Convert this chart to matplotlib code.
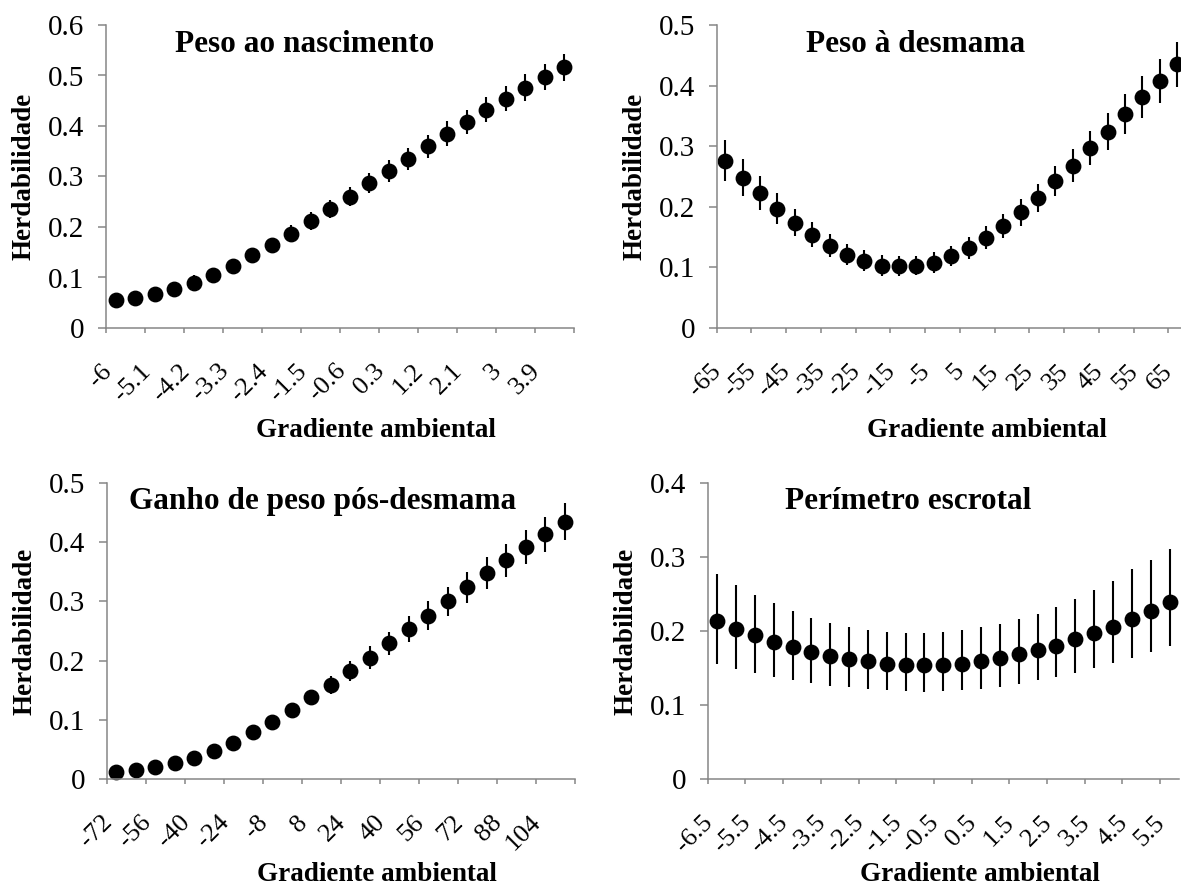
import matplotlib
matplotlib.use("Agg")
import matplotlib.pyplot as plt
import numpy as np

plt.rcParams['font.family'] = ['Liberation Serif', 'DejaVu Serif']

# Peso ao nascimento
grad_pn = [-6.0, -5.55, -5.1, -4.65, -4.2, -3.75, -3.3, -2.85, -2.4, -1.95, -1.5, -1.05,
           -0.6, -0.15, 0.3, 0.75, 1.2, 1.65, 2.1, 2.55, 3.0, 3.45, 3.9, 4.35]
h2_pn = [0.055, 0.059, 0.067, 0.077, 0.090, 0.105, 0.123, 0.144, 0.164, 0.187, 0.212, 0.236,
         0.260, 0.287, 0.311, 0.335, 0.360, 0.385, 0.408, 0.432, 0.454, 0.476, 0.497, 0.516]
err_pn = [0.014, 0.014, 0.014, 0.014, 0.014, 0.014, 0.014, 0.015, 0.015, 0.016, 0.017, 0.018,
          0.019, 0.020, 0.021, 0.022, 0.023, 0.024, 0.024, 0.025, 0.025, 0.026, 0.026, 0.027]

# Peso a desmama
grad_pd = [-65, -60, -55, -50, -45, -40, -35, -30, -25, -20, -15, -10, -5, 0,
           5, 10, 15, 20, 25, 30, 35, 40, 45, 50, 55, 60, 65]
h2_pd = [0.276, 0.248, 0.222, 0.197, 0.174, 0.154, 0.136, 0.121, 0.111, 0.103, 0.102, 0.103, 0.108, 0.119,
         0.132, 0.149, 0.168, 0.191, 0.215, 0.242, 0.268, 0.297, 0.324, 0.353, 0.381, 0.408, 0.435]
err_pd = [0.034, 0.031, 0.028, 0.025, 0.023, 0.021, 0.019, 0.017, 0.017, 0.017, 0.016, 0.016, 0.017, 0.017,
          0.018, 0.019, 0.020, 0.022, 0.023, 0.025, 0.027, 0.028, 0.031, 0.033, 0.035, 0.036, 0.037]

# Ganho de peso pos-desmama
grad_gpd = [-72, -64, -56, -48, -40, -32, -24, -16, -8, 0, 8, 16,
            24, 32, 40, 48, 56, 64, 72, 80, 88, 96, 104, 112]
h2_gpd = [0.013, 0.015, 0.020, 0.027, 0.036, 0.048, 0.062, 0.079, 0.097, 0.116, 0.138, 0.159,
          0.182, 0.205, 0.229, 0.253, 0.276, 0.300, 0.324, 0.347, 0.369, 0.392, 0.413, 0.434]
err_gpd = [0.003, 0.003, 0.004, 0.004, 0.005, 0.006, 0.007, 0.008, 0.010, 0.011, 0.013, 0.015,
           0.017, 0.019, 0.020, 0.022, 0.024, 0.025, 0.026, 0.027, 0.028, 0.029, 0.030, 0.031]

# Perimetro escrotal (intervalo assimetrico)
grad_pe = [-6.5, -6.0, -5.5, -5.0, -4.5, -4.0, -3.5, -3.0, -2.5, -2.0, -1.5, -1.0, -0.5,
           0.0, 0.5, 1.0, 1.5, 2.0, 2.5, 3.0, 3.5, 4.0, 4.5, 5.0, 5.5]
h2_pe = [0.213, 0.203, 0.194, 0.185, 0.178, 0.172, 0.166, 0.162, 0.159, 0.156, 0.154, 0.154, 0.154,
         0.156, 0.160, 0.164, 0.169, 0.174, 0.180, 0.189, 0.197, 0.206, 0.216, 0.227, 0.239]
lo_pe = [0.155, 0.149, 0.144, 0.138, 0.134, 0.130, 0.126, 0.124, 0.122, 0.120, 0.119, 0.118, 0.119,
         0.120, 0.122, 0.125, 0.129, 0.134, 0.138, 0.144, 0.150, 0.157, 0.164, 0.172, 0.180]
hi_pe = [0.277, 0.262, 0.249, 0.238, 0.227, 0.218, 0.211, 0.205, 0.202, 0.198, 0.197, 0.197, 0.199,
         0.201, 0.205, 0.209, 0.216, 0.223, 0.233, 0.243, 0.255, 0.268, 0.283, 0.296, 0.310]

W, H = 1181, 888
cinza = '#868686'


def painel(ax, grad, h2, yerr, ymax, titulo, tx, xlab_px):
    n = len(grad)
    idx = np.arange(n)
    ax.errorbar(idx, h2, yerr=yerr, fmt='o', color='black', ms=10.4,
                elinewidth=1.5, capsize=0, clip_on=False)
    ax.set_xlim(-0.5, n - 0.5)
    ax.set_ylim(0, ymax)

    # eixo y
    yt = np.round(np.arange(0, ymax + 0.001, 0.1), 1)
    ax.set_yticks(yt, [f"{v:g}" for v in yt])
    ax.tick_params(axis='y', length=5.5, width=1.1, color=cinza, pad=10, labelsize=21)

    # eixo x: marcas a cada 2 categorias, rotulos a cada 2
    ax.set_xticks(np.arange(-0.5, n, 2))
    ax.tick_params(axis='x', which='major', length=3.6, width=1.1, color=cinza, labelbottom=False)
    ax.set_xticks(idx[::2], [f"{grad[i]:g}" for i in idx[::2]], minor=True)
    ax.tick_params(axis='x', which='minor', length=0, pad=23, labelsize=19)
    for lab in ax.get_xticklabels(minor=True):
        lab.set_rotation(45)
        lab.set_ha('right')
        lab.set_va('top')

    for s in ['top', 'right']:
        ax.spines[s].set_visible(False)
    for s in ['left', 'bottom']:
        ax.spines[s].set_color(cinza)
        ax.spines[s].set_linewidth(1.1)

    pos = ax.get_position()
    wpx, hpx = pos.width * W, pos.height * H
    ax.text(tx, 1 - 0.088 * 303 / hpx, titulo, transform=ax.transAxes, ha='center', va='baseline',
            fontsize=22.5, fontweight='bold')
    ax.text(-82 / wpx, 0.5, 'Herdabilidade', transform=ax.transAxes, rotation=90,
            ha='center', va='center', fontsize=19.5, fontweight='bold')
    ax.text(0.577, -xlab_px / hpx, 'Gradiente ambiental', transform=ax.transAxes,
            ha='center', va='baseline', fontsize=19.5, fontweight='bold')


fig = plt.figure(figsize=(W / 100, H / 100), dpi=100)
ax1 = fig.add_axes([106 / W, 1 - 328 / H, 468 / W, 303 / H])
ax2 = fig.add_axes([716.7 / W, 1 - 328 / H, 469 / W, 303 / H])
ax3 = fig.add_axes([106.7 / W, 1 - 779.3 / H, 468 / W, 296.6 / H])
ax4 = fig.add_axes([707.7 / W, 1 - 779.3 / H, 471.3 / W, 296.6 / H])

painel(ax1, grad_pn, h2_pn, err_pn, 0.6, 'Peso ao nascimento', 0.424, 109)
painel(ax2, grad_pd, h2_pd, err_pd, 0.5, 'Peso à desmama', 0.424, 109)
painel(ax3, grad_gpd, h2_gpd, err_gpd, 0.5, 'Ganho de peso pós-desmama', 0.462, 102)
erro_pe = [np.subtract(h2_pe, lo_pe), np.subtract(hi_pe, h2_pe)]
painel(ax4, grad_pe, h2_pe, erro_pe, 0.4, 'Perímetro escrotal', 0.425, 102)

fig.savefig('out.png', dpi=100)
